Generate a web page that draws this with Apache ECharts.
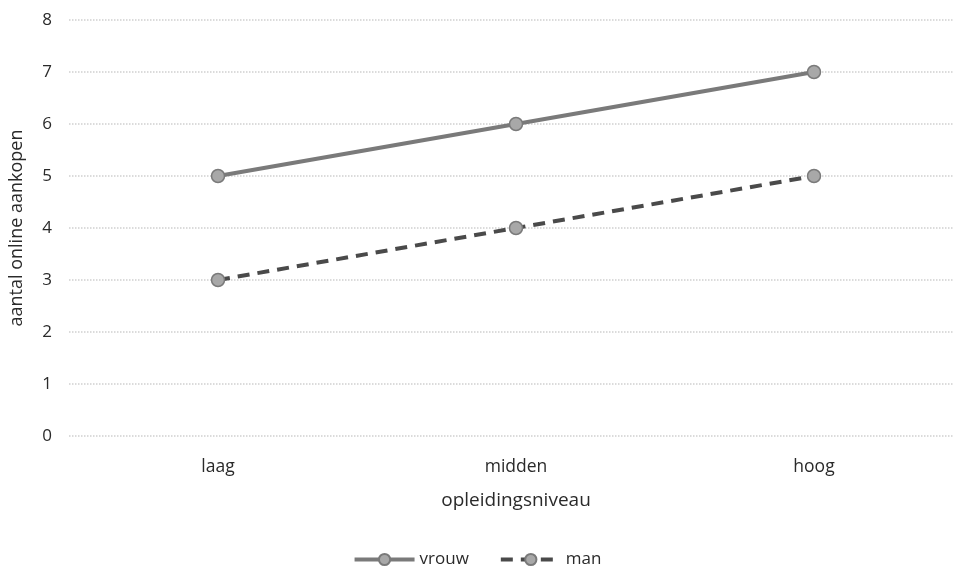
<!DOCTYPE html>
<html><head><meta charset="utf-8">
<script src="https://cdn.jsdelivr.net/npm/echarts@6/dist/echarts.min.js"></script>
<style>html,body{margin:0;padding:0;background:#fff}#c{width:954px;height:571px}</style>
</head><body><div id="c"></div>
<script>
const categories = ['laag', 'midden', 'hoog'];
const vrouw = [5, 6, 7];
const man = [3, 4, 5];
const yTicks = [0, 1, 2, 3, 4, 5, 6, 7, 8];

const chart = echarts.init(document.getElementById('c'));
const font = 'Open Sans, Liberation Sans, sans-serif';
chart.setOption({
  animation: false,
  backgroundColor: '#fff',
  grid: { left: 69, right: -9, top: 20, bottom: 135, outerBoundsMode: 'none', containLabel: false },
  legend: {
    top: 546, left: 'center', itemWidth: 60, itemHeight: 14, itemGap: 30,
    textStyle: { fontFamily: font, fontSize: 17, color: '#2a2a2a' },
    lineStyle: { width: 4 },
    data: ['vrouw', 'man']
  },
  xAxis: {
    type: 'category', data: categories, boundaryGap: true,
    axisLine: { show: false }, axisTick: { show: false },
    axisLabel: { fontFamily: font, fontSize: 17.5, color: '#2a2a2a', margin: 22 },
    name: 'opleidingsniveau', nameLocation: 'middle', nameGap: 55,
    nameTextStyle: { fontFamily: font, fontSize: 19, color: '#2a2a2a' }
  },
  yAxis: {
    type: 'value', min: yTicks[0], max: yTicks[yTicks.length - 1], interval: 1,
    axisLine: { show: false }, axisTick: { show: false },
    axisLabel: { fontFamily: font, fontSize: 17, color: '#2a2a2a', margin: 17 },
    splitLine: { lineStyle: { color: '#cfcfcf', type: 'dotted', width: 1.5 } },
    name: 'aantal online aankopen', nameLocation: 'middle', nameGap: 43,
    nameTextStyle: { fontFamily: font, fontSize: 18, color: '#2a2a2a' }
  },
  series: [
    {
      name: 'vrouw', type: 'line', data: vrouw,
      symbol: 'circle', symbolSize: 13,
      lineStyle: { color: '#7a7a7a', width: 4 },
      itemStyle: { color: '#a8a8a8', borderColor: '#7a7a7a', borderWidth: 1.5 }
    },
    {
      name: 'man', type: 'line', data: man,
      symbol: 'circle', symbolSize: 13,
      lineStyle: { color: '#4a4a4a', width: 4, type: [12, 8] },
      itemStyle: { color: '#a8a8a8', borderColor: '#7a7a7a', borderWidth: 1.5 }
    }
  ]
});
</script></body></html>
